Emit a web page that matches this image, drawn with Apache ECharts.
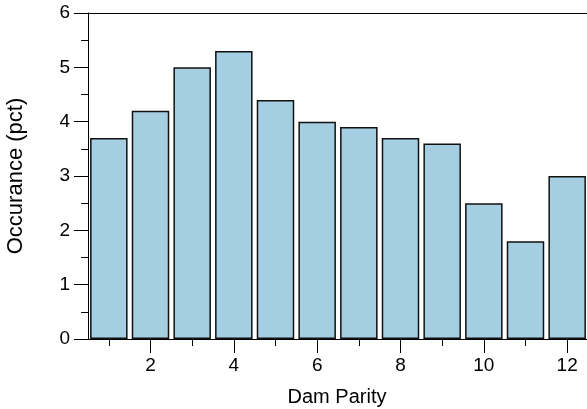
<!DOCTYPE html>
<html>
<head>
<meta charset="utf-8">
<script src="https://cdn.jsdelivr.net/npm/echarts@6/dist/echarts.min.js"></script>
<style>
html,body{margin:0;padding:0;background:#fff;}
#chart{width:587px;height:409px;}
</style>
</head>
<body>
<div id="chart"></div>
<script>
const categories = ['1','2','3','4','5','6','7','8','9','10','11','12'];
const occurrence = [3.7, 4.2, 5.0, 5.3, 4.4, 4.0, 3.9, 3.7, 3.6, 2.5, 1.8, 3.0];
const xTitle = 'Dam Parity';
const yTitle = 'Occurance (pct)';

const chart = echarts.init(document.getElementById('chart'), null, {renderer: 'canvas'});
const font = 'Liberation Sans, Arial, Helvetica, sans-serif';
const axisColor = '#000';

chart.setOption({
  animation: false,
  backgroundColor: '#fff',
  grid: {left: 88, right: -1, top: 13, bottom: 70, containLabel: false, outerBoundsMode: 'none'},
  xAxis: [
    {
      type: 'category', data: categories, position: 'bottom', boundaryGap: true,
      axisLine: {show: true, onZero: false, lineStyle: {color: axisColor, width: 1}},
      axisTick: {show: true, alignWithLabel: true, length: 14, lineStyle: {color: axisColor, width: 1},
        interval: function (i) { return (i + 1) % 2 === 0; }},
      axisLabel: {show: true, color: '#000', fontSize: 19, fontFamily: font, margin: 17,
        interval: function (i) { return (i + 1) % 2 === 0; }},
      splitLine: {show: false}
    },
    {
      type: 'category', data: categories, position: 'bottom', boundaryGap: true,
      axisLine: {show: false, onZero: false},
      axisTick: {show: true, alignWithLabel: true, length: 7, lineStyle: {color: axisColor, width: 1},
        interval: function (i) { return (i + 1) % 2 === 1; }},
      axisLabel: {show: false},
      splitLine: {show: false}
    },
    {
      type: 'category', data: categories, position: 'top', boundaryGap: true,
      axisLine: {show: true, onZero: false, lineStyle: {color: axisColor, width: 1}},
      axisTick: {show: false}, axisLabel: {show: false}, splitLine: {show: false}
    }
  ],
  yAxis: {
    type: 'value', min: 0, max: 6, interval: 1,
    axisLine: {show: true, onZero: false, lineStyle: {color: axisColor, width: 1}},
    axisTick: {show: true, length: 14, lineStyle: {color: axisColor, width: 1}},
    minorTick: {show: true, splitNumber: 2, length: 7, lineStyle: {color: axisColor, width: 1}},
    axisLabel: {color: '#000', fontSize: 19, fontFamily: font, margin: 18},
    splitLine: {show: false}, minorSplitLine: {show: false}
  },
  graphic: [
    {
      type: 'text', x: 337, y: 397,
      style: {text: xTitle, fill: '#000', font: '20px ' + font, align: 'center', verticalAlign: 'middle'}
    },
    {
      type: 'text', x: 16, y: 176, rotation: Math.PI / 2,
      style: {text: yTitle, fill: '#000', font: '22px ' + font, align: 'center', verticalAlign: 'middle'}
    }
  ],
  series: [{
    type: 'bar', xAxisIndex: 0, data: occurrence,
    barCategoryGap: '10%',
    itemStyle: {color: '#a6cee3', borderColor: '#111', borderWidth: 1.5}
  }]
});
</script>
</body>
</html>
